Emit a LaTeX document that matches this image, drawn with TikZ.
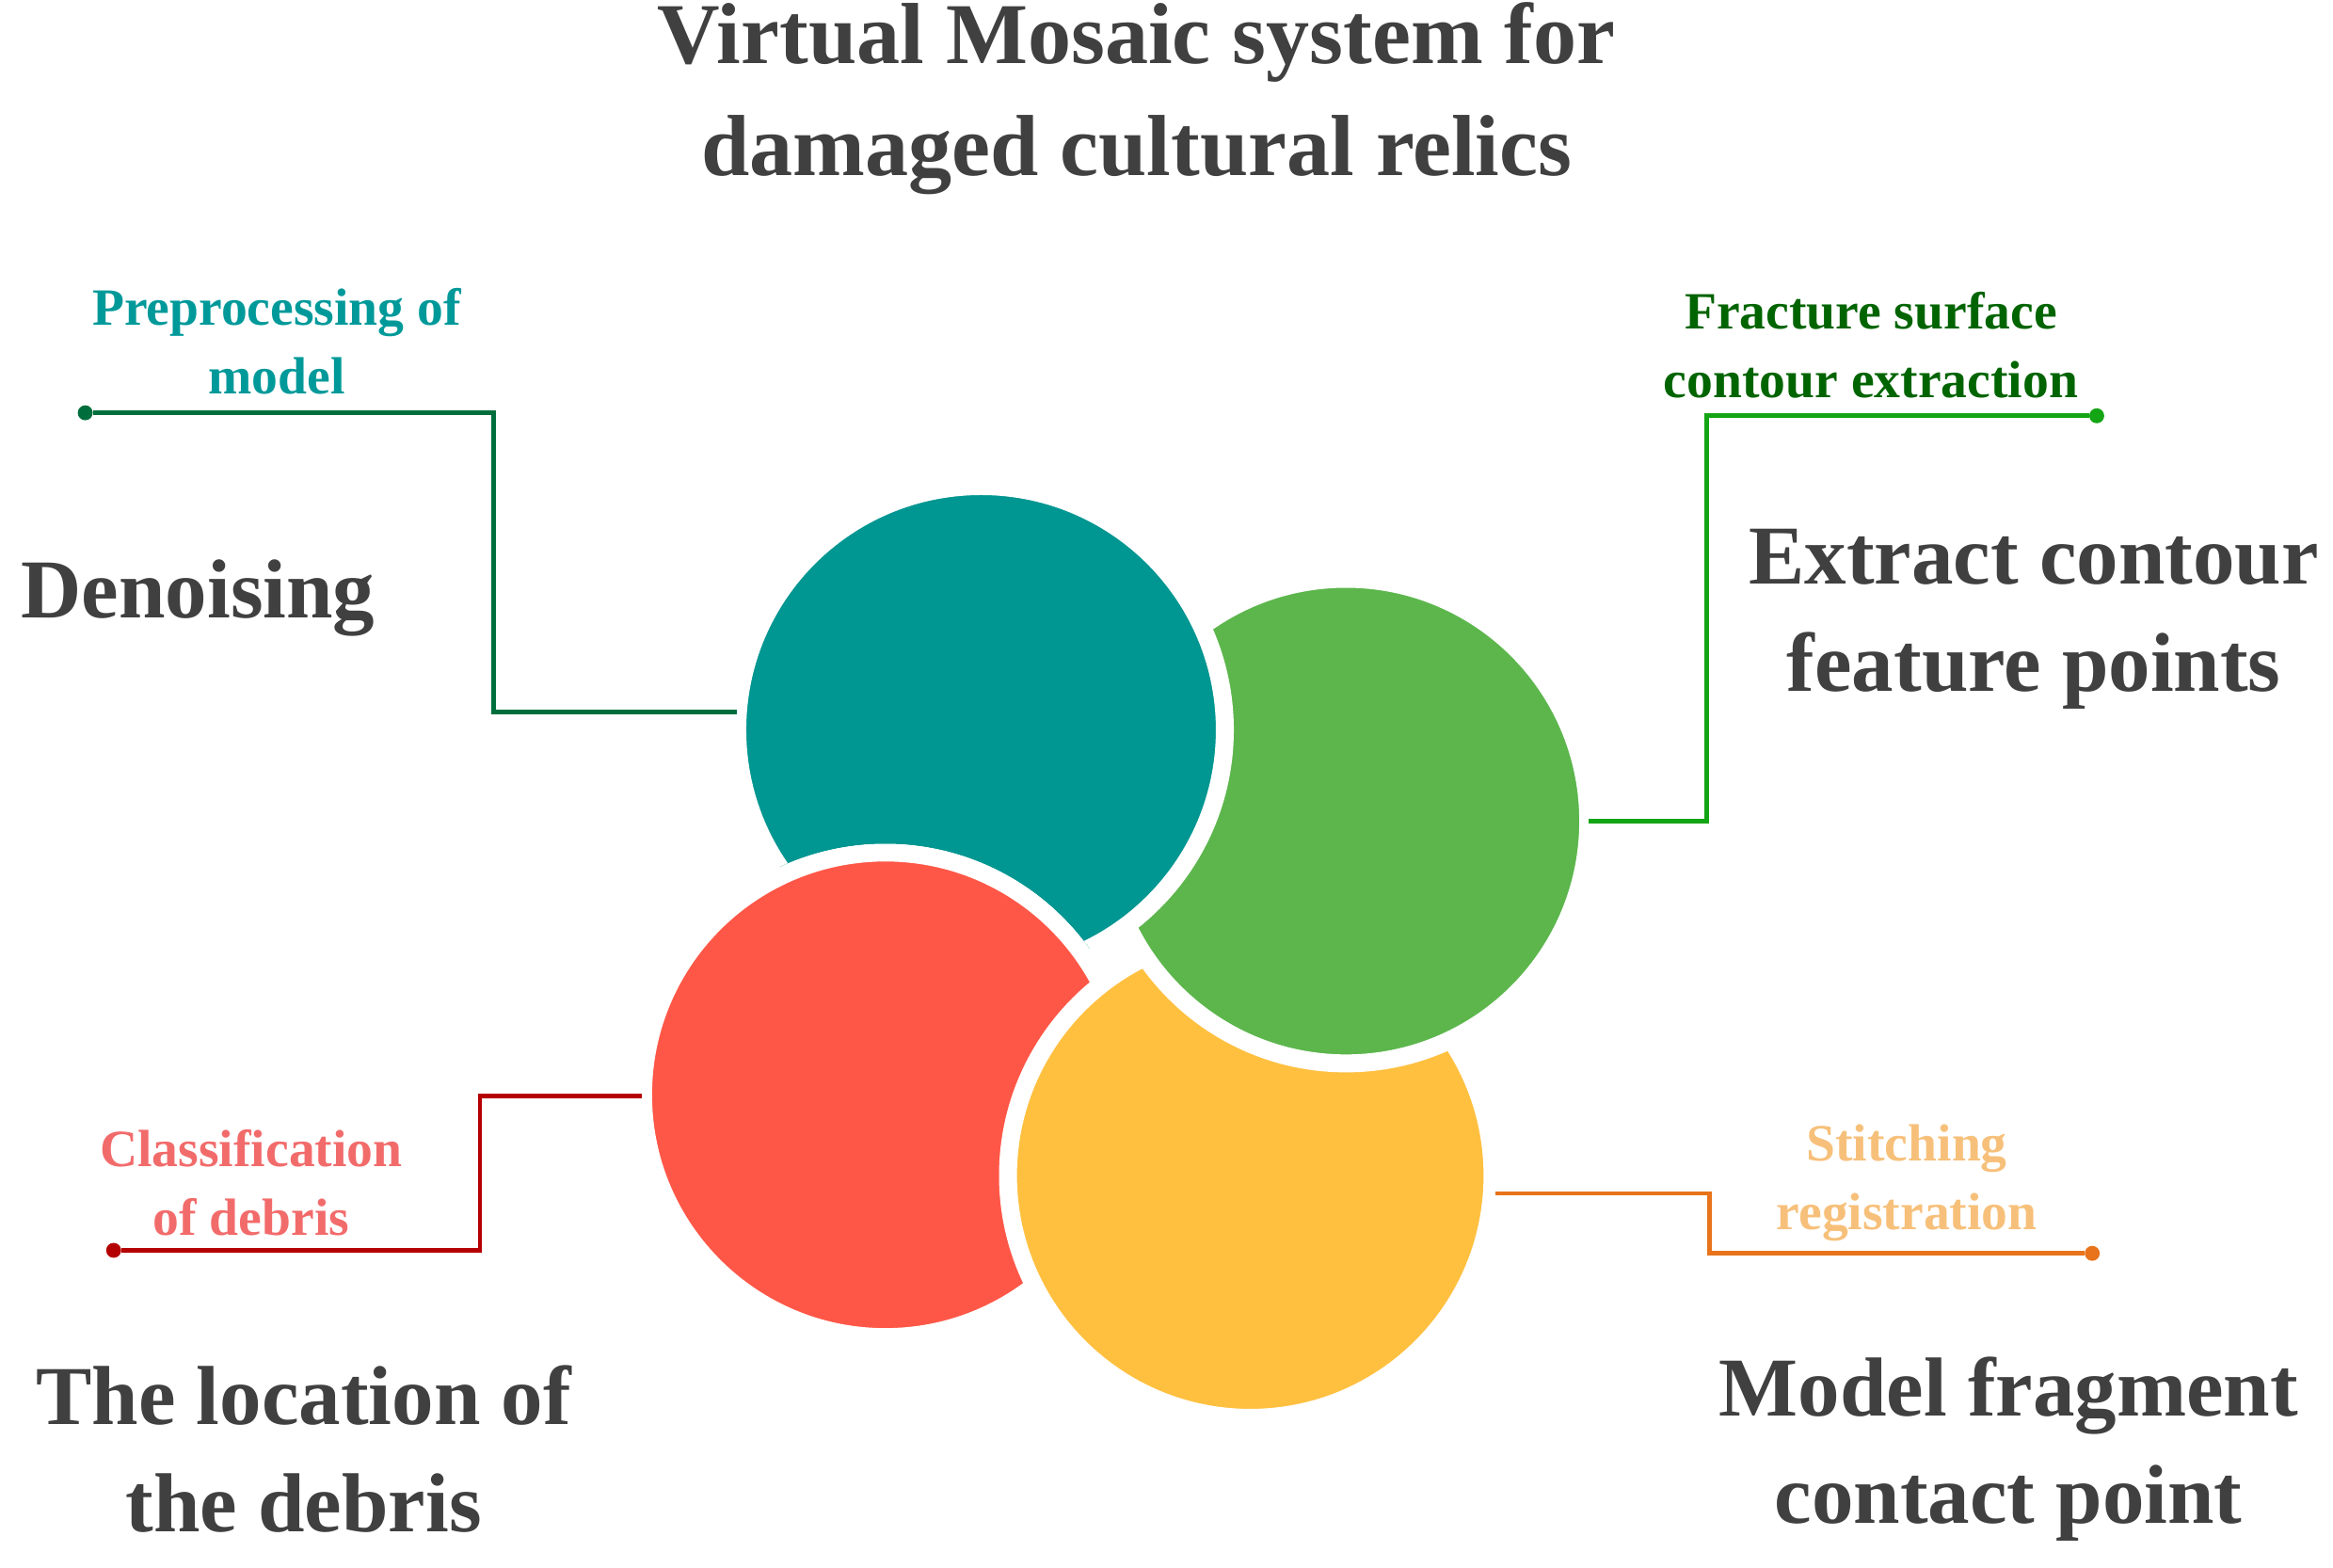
\documentclass[tikz,border=0pt]{standalone}
\usepackage{fontspec}
\setmainfont{Liberation Serif}
\definecolor{cteal}{RGB}{0,150,145}
\definecolor{cgreen}{RGB}{92,182,76}
\definecolor{cred}{RGB}{255,87,71}
\definecolor{cyellow}{RGB}{255,192,64}
\definecolor{ltealline}{RGB}{0,110,60}
\definecolor{lgreenline}{RGB}{20,165,20}
\definecolor{lredline}{RGB}{180,0,0}
\definecolor{lorangeline}{RGB}{232,115,26}
\definecolor{ttext}{RGB}{64,64,64}
\definecolor{tteal}{RGB}{0,153,154}
\definecolor{tgreen}{RGB}{0,100,0}
\definecolor{tred}{RGB}{242,107,107}
\definecolor{torange}{RGB}{247,192,122}
\tikzset{
  big/.style={font=\fontsize{56}{72}\selectfont\bfseries, text=ttext, align=center, inner sep=0},
  small/.style={font=\fontsize{35}{46}\selectfont\bfseries, align=center, inner sep=0},
  petal/.style={draw=white, line width=12pt},
  lead/.style={line width=3pt},
  dot/.style={circle, fill, inner sep=0, minimum size=10pt}
}
\begin{document}
\begin{tikzpicture}[x=1pt,y=1pt,yscale=-1]
\useasboundingbox (0,0) rectangle (1560,1048);

% circles
\coordinate (cT) at (656,488);
\coordinate (cG) at (900,549);
\coordinate (cR) at (592,732);
\coordinate (cY) at (836,786);
\fill[cteal] (cT) circle (163);
\filldraw[petal, fill=cred] (cR) circle (162);
\filldraw[petal, fill=cyellow] (cY) circle (162);
\filldraw[petal, fill=cgreen] (cG) circle (162);
\begin{scope}[even odd rule]
  \clip (0,0) rectangle (1560,1048) (cR) circle (168);
  \filldraw[petal, fill=cteal] (cT) circle (163);
\end{scope}

% title
\node[big, font=\fontsize{58}{75}\selectfont\bfseries] (title) at (760,66) {Virtual Mosaic system for\\damaged cultural relics};

% labels
\node[small, text=tteal] (pre) at (185,228) {Preprocessing of\\model};
\node[big, anchor=west] (den) at (14,400) {Denoising};
\node[small, text=tgreen] (frac) at (1251,231) {Fracture surface\\contour extraction};
\node[big] (ext) at (1360,414) {Extract contour\\feature points};
\node[small, text=tred] (cls) at (168,791) {Classification\\of debris};
\node[big] (loc) at (203,969) {The location of\\the debris};
\node[small, text=torange] (sti) at (1275,791) {Stitching\\registration};
\node[big] (mod) at (1343,969) {Model fragment\\contact point};

% leaders
\node[dot, ltealline] (dT) at (57,276) {};
\node[dot, lgreenline] (dG) at (1402,278) {};
\node[dot, lredline] (dR) at (76,836) {};
\node[dot, lorangeline] (dY) at (1399,838) {};
\coordinate (eT) at (493,476);
\coordinate (eG) at (1062,549);
\coordinate (eR) at (429,733);
\coordinate (eY) at (1000,798);
\draw[lead, ltealline] (dT) -- (330,276) |- (eT);
\draw[lead, lgreenline] (eG) -- (1141,549) |- (dG);
\draw[lead, lredline] (dR) -- (321,836) |- (eR);
\draw[lead, lorangeline] (eY) -- (1143,798) |- (dY);
\end{tikzpicture}
\end{document}
